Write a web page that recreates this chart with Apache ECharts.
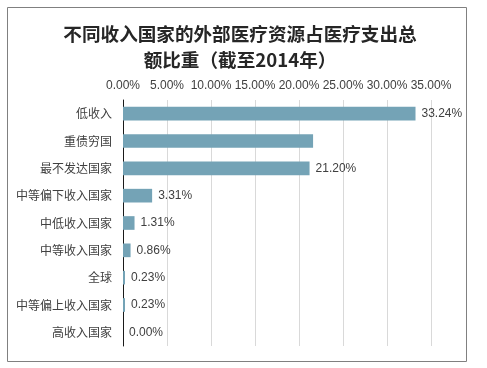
<!DOCTYPE html>
<html>
<head>
<meta charset="utf-8">
<script src="https://cdn.jsdelivr.net/npm/echarts@6/dist/echarts.min.js"></script>
<style>html,body{margin:0;padding:0;background:#fff;}#c{width:487px;height:368px;}</style>
</head>
<body>
<div id="c"></div>
<script>
const titleText = '不同收入国家的外部医疗资源占医疗支出总\n额比重（截至2014年）';
const categories = ['低收入','重债穷国','最不发达国家','中等偏下收入国家','中低收入国家','中等收入国家','全球','中等偏上收入国家','高收入国家'];
const values = [33.24, 21.6, 21.20, 3.31, 1.31, 0.86, 0.23, 0.23, 0.00];
const showLabel = [true, false, true, true, true, true, true, true, true];
const axisMin = 0, axisMax = 35, axisInterval = 5;

const font = '"Liberation Sans", "Noto Sans CJK SC", sans-serif';
const chart = echarts.init(document.getElementById('c'));
chart.setOption({
  animation: false,
  backgroundColor: '#fff',
  graphic: [{
    type: 'rect', shape: {x: 7.5, y: 7.5, width: 459, height: 354},
    style: {fill: 'none', stroke: '#808080', lineWidth: 1}, silent: true, z: -1
  }],
  title: {
    text: titleText, left: 235, top: 16, textAlign: 'center',
    textStyle: {fontFamily: '"Noto Sans CJK SC", sans-serif', fontSize: 18.6, fontWeight: 'bold', color: '#262626', lineHeight: 26}
  },
  grid: {left: 123, right: 56, top: 100, bottom: 22, containLabel: false},
  xAxis: {
    type: 'value', position: 'top', min: axisMin, max: axisMax, interval: axisInterval,
    axisLine: {show: false}, axisTick: {show: false},
    splitLine: {lineStyle: {color: '#d9d9d9', width: 1}},
    axisLabel: {margin: 8, fontSize: 12, color: '#404040', fontFamily: font, formatter: v => v.toFixed(2) + '%'}
  },
  yAxis: {
    type: 'category', inverse: true, data: categories,
    axisLine: {lineStyle: {color: '#1a1a1a', width: 1}}, axisTick: {show: false},
    axisLabel: {margin: 11, fontSize: 12, color: '#404040', fontFamily: '"Noto Sans CJK SC", sans-serif'}
  },
  series: [{
    type: 'bar', barCategoryGap: '50%',
    itemStyle: {color: '#74a3b6'},
    data: values.map((v, i) => ({value: v, label: {show: showLabel[i]}})),
    label: {position: 'right', distance: 6, fontSize: 12, color: '#404040', fontFamily: font, formatter: p => p.value.toFixed(2) + '%'}
  }]
});
</script>
</body>
</html>
